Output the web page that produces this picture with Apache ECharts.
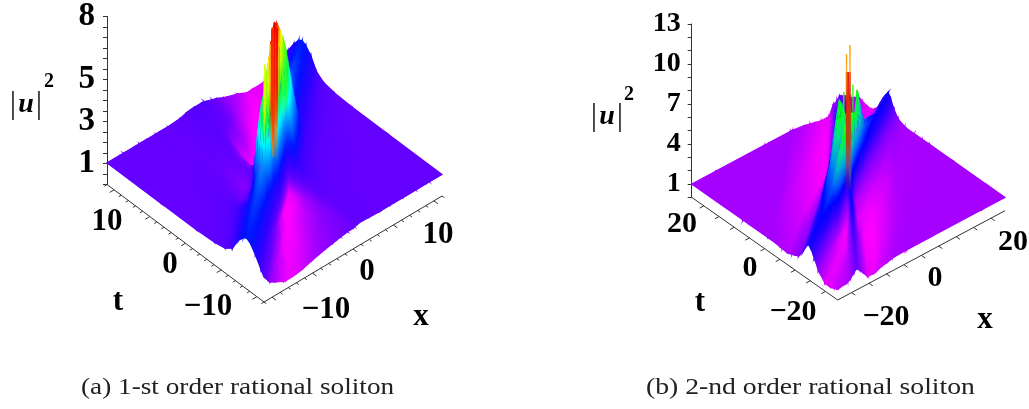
<!DOCTYPE html>
<html>
<head>
<meta charset="utf-8">
<style>html,body{margin:0;padding:0;background:#fff}#main{width:1029px;height:409px}</style>
<script src="https://cdn.jsdelivr.net/npm/echarts@6/dist/echarts.min.js"></script>
</head>
<body>
<div id="main"></div>
<script>
// mesh stations: a runs along the main ridge, b across it
var aStationsFirst = [-11, -9, -7, -5, -3.5, -2, -1, 0, 1, 2, 3.5, 5, 7, 9, 11];
var bStationsFirst = [-20, -12, -7, -4.5, -3, -2, -1.2, -0.5, 0, 0.5, 1.2, 2, 3, 4.5, 7, 12, 20];
var heightsFirst = [
    [1, .95, .6, .45, .8, 1.4, 1.9, 2.25, 2.35, 2.25, 1.95, 1.4, 1.15, 1.05, 1, 1, 1],
    [1, .95, .5, .4, .7, 1.3, 1.95, 2.35, 2.5, 2.35, 2, 1.5, 1.2, 1.08, 1, 1, 1],
    [1, .9, .5, .35, .55, 1.1, 1.9, 2.5, 2.7, 2.5, 2.05, 1.65, 1.3, 1.1, 1.02, 1, 1],
    [1, .9, .6, .38, .35, .85, 1.9, 2.9, 3.3, 2.9, 2.2, 1.2, .95, 1, 1.03, 1, 1],
    [1, .92, .68, .4, .3, .55, 2.2, 4.6, 5.5, 5, 3.8, 1, .8, .9, 1, 1, 1],
    [1, .97, .75, .5, .33, .3, 3.6, 5.4, 6.6, 5.6, 4.5, 1.5, 1, 1, 1.05, 1.05, 1],
    [1, 1, .8, .55, .35, .25, 3.6, 6, 7.3, 6.2, 4.6, 1.2, .8, .85, 1.1, 1.15, 1],
    [1, .97, .85, .7, .45, .4, 3.6, 6.4, 7.7, 6.4, 3.6, .35, .3, .5, 1, 1.2, 1],
    [1, 1.05, 1.05, 1.2, 1.55, 3.2, 4.6, 6.2, 7.3, 6, 3.6, .25, .3, .6, 1, 1.25, 1],
    [1, 1.02, 1.05, 1.2, 1.5, 3, 4.5, 5.6, 6.6, 5.4, 3.6, .25, .25, .5, .9, 1.15, 1],
    [1, 1, 1.03, 1.15, 1.4, 2.6, 3.8, 5, 5.5, 4.6, 2.2, .5, .25, .35, .7, 1.05, 1],
    [1, 1, 1.03, 1.12, 1.35, 1.7, 2.2, 2.9, 3.3, 2.9, 1.9, .85, .3, .3, .6, .95, 1],
    [1, 1, 1.02, 1.1, 1.3, 1.65, 2.05, 2.5, 2.7, 2.5, 1.9, 1.1, .55, .38, .45, .9, 1],
    [1, 1, 1, 1.08, 1.2, 1.5, 2, 2.35, 2.5, 2.35, 1.95, 1.3, .7, .45, .45, .9, 1],
    [1, 1, 1, 1.05, 1.15, 1.4, 1.95, 2.25, 2.35, 2.25, 1.9, 1.4, .8, .5, .5, .92, 1]
];
// a, b, low height, top height, width of the jagged slivers on the central peak
var spikesFirst = [
    [1, -.9, 3, 5.2, 2], [2, -.9, 3, 5, 2], [-2, .7, 3, 5.9, 2], [-1, 1, 3, 6, 2],
    [-6, -1.9, 4.5, 6.4, 1.5], [-5, -1.6, 4, 6.6, 2], [-4, -1.3, 3.5, 7, 2], [-3, -.9, 3, 7.2, 2],
    [-2, -1, 2.5, 6.8, 2], [-2, -.5, 2.5, 7.2, 2.5], [-1, -.5, 2.5, 7.1, 2], [-1, .1, 2.5, 7.3, 2.5],
    [1, .6, 3.5, 7, 2], [0, .6, 3.5, 6.6, 1.5], [0, -.65, 3.5, 6.8, 1.5],
    [0, .35, 3, 7.4, 2], [0, -.35, 3, 7.6, 2], [0, 0, 3, 7.8, 2]
];
var heightStopsFirst = [.3, .6, 1, 1.6, 2.3, 2.9, 3.5, 4, 4.8, 5.5, 6.2, 7, 7.6];
var colorStopsFirst = ['#ff00ff', '#b000ff', '#6400ff', '#3000ff', '#0010ff', '#0060ff', '#00b0ff', '#00ffff', '#00ff40', '#80ff00', '#ffff00', '#ff6000', '#f00000'];
var zTicksFirst = ['1', '3', '5', '8'];
var tLabelsFirst = ['10', '0', '\u221210'];
var xLabelsFirst = ['10', '0', '\u221210'];

var aStationsSecond = [-90, -40, -25, -16, -10, -6, -3.5, -1.5, 0, 1.5, 3.5, 6, 10, 16, 25, 40, 90];
var bStationsSecond = [-90, -40, -25, -16, -10, -6, -3.5, -1.5, 0, 1.5, 3.5, 6, 10, 16, 25, 40, 90];
var heightsSecond = [
    [1, 1, 1, 1, 1, 1, 1, 1, 1, 1, 1, 1, 1, 1, 1, 1, 1],
    [1, 1, 1, .9, .95, 1.1, 1.5, 2, 2.3, 2, 1.5, 1.15, 1, 1, 1, 1, 1],
    [1, 1, .85, .7, .85, 1.3, 1.85, 2.35, 2.6, 2.35, 1.8, 1.3, 1.05, .7, .7, 1, 1],
    [1, 1, .9, .6, .6, 1.1, 1.9, 2.6, 2.9, 2.7, 2.6, 2.2, 1.1, .45, .5, .95, 1],
    [1, 1, 1, .75, .5, .9, 1.9, 3, 3.5, 3.5, 3.6, 3.6, 2.2, .4, .4, .9, 1],
    [1, 1, .95, .8, .5, .6, 2.6, 4.2, 5, 4.4, 4.5, 5.2, 4.6, 1.5, .5, .9, 1],
    [1, 1, 1.1, .95, .5, .4, 1.8, 4.6, 6, 4.8, 4.5, 6, 6, 2.8, 1.3, 1, 1],
    [1, 1, 1.35, 1.4, 1.2, .7, 1.5, 5.5, 6.5, 6, 5, 5.8, 5.2, 2.6, 1.4, 1, 1],
    [1, 1, 1.55, 2, 2.8, 3.2, 4.5, 6.5, 8.5, 6.5, 6, 5, 3.4, 2.4, 1.6, 1, 1],
    [1, 1, 1.35, 1.6, 1.8, 1.8, 3, 5.5, 6.5, 6, 4.4, 3.6, 2.8, 2, 1.4, 1, 1],
    [1, 1, 1, .9, .6, .9, 2, 4, 6, 5, 3.4, 2.2, 1.8, 1.6, 1.25, 1, 1],
    [1, .9, .5, .4, .55, .9, 1.9, 3.6, 5.2, 5.4, 6.2, 3.4, 1, 1, 1.1, 1, 1],
    [1, .9, .4, .35, .55, 1, 1.7, 2.9, 3.5, 3.6, 3, 1.8, .6, .75, 1, 1, 1],
    [1, .95, .65, .55, .75, 1.2, 1.8, 2.5, 2.9, 2.6, 1.8, .95, .55, .6, .9, 1, 1],
    [1, 1, .95, .95, 1.05, 1.3, 1.8, 2.35, 2.7, 2.35, 1.85, 1.3, .85, .7, .85, 1, 1],
    [1, 1, 1, 1, 1, 1.15, 1.5, 2, 2.3, 2, 1.5, 1.1, .95, .9, 1, 1, 1],
    [1, 1, 1, 1, 1, 1, 1, 1, 1, 1, 1, 1, 1, 1, 1, 1, 1]
];
var spikesSecond = [
    [-.9, 8.65, 3, 6.3, 1.5], [4.1, 6.3, 3.5, 6.3, 1.5], [0, 0, 1, 9.9, 5], [-1.1, 0, 8, 11.5, 1.5], [1, 0, 8, 11.7, 1.5]
];
var heightStopsSecond = [.35, .7, 1, 1.6, 2.2, 2.9, 3.6, 4.4, 5, 5.8, 6.6, 8, 9, 10, 11.5];
var colorStopsSecond = ['#ff00ff', '#d000ff', '#a600ff', '#7000ff', '#3000ff', '#0000ff', '#0060ff', '#00b0d0', '#00e090', '#00ff20', '#40ff00', '#e0e000', '#ff3000', '#e01010', '#ff9a00'];
var zTicksSecond = ['1', '4', '7', '10', '13'];
var tLabelsSecond = ['20', '0', '\u221220'];
var xLabelsSecond = ['20', '0', '\u221220'];

var panelFirst = {
    range: 11, tStep: 1, tMajor: 5,
    dirA: [1, .78], dirB: [0, 1],
    aStations: aStationsFirst, bStations: bStationsFirst, heights: heightsFirst, spikes: spikesFirst,
    heightStops: heightStopsFirst, colorStops: colorStopsFirst,
    left: [107, 184.5], bottom: [264, 302], right: [442, 196], hScale: 21.6
};
var panelSecond = {
    range: 24, tStep: 5, tMajor: 1,
    dirA: [1, .6], dirB: [.77, 1],
    aStations: aStationsSecond, bStations: bStationsSecond, heights: heightsSecond, spikes: spikesSecond,
    heightStops: heightStopsSecond, colorStops: colorStopsSecond,
    left: [691.7, 197.3], bottom: [837.7, 300], right: [1005, 210.7], hScale: 13.33
};

function project(p, x, t, h) {
    var r = p.range;
    var fx = (x + r) / (2 * r), ft = (r - t) / (2 * r);
    return [
        p.left[0] + (p.bottom[0] - p.left[0]) * ft + (p.right[0] - p.bottom[0]) * fx,
        p.left[1] + (p.bottom[1] - p.left[1]) * ft + (p.right[1] - p.bottom[1]) * fx - p.hScale * h
    ];
}

function colorAt(p, h) {
    var hs = p.heightStops, cs = p.colorStops;
    if (h <= hs[0]) return hexRgb(cs[0]);
    for (var i = 1; i < hs.length; i++) {
        if (h <= hs[i]) {
            var f = (h - hs[i - 1]) / (hs[i] - hs[i - 1]);
            var c0 = hexRgb(cs[i - 1]), c1 = hexRgb(cs[i]);
            return [c0[0] + (c1[0] - c0[0]) * f, c0[1] + (c1[1] - c0[1]) * f, c0[2] + (c1[2] - c0[2]) * f];
        }
    }
    return hexRgb(cs[cs.length - 1]);
}

function hexRgb(s) {
    return [parseInt(s.substr(1, 2), 16), parseInt(s.substr(3, 2), 16), parseInt(s.substr(5, 2), 16)];
}

function css(c, alpha) {
    return 'rgba(' + Math.round(c[0]) + ',' + Math.round(c[1]) + ',' + Math.round(c[2]) + ',' + (alpha === undefined ? 1 : alpha) + ')';
}

// cut a polygon of [x, t, h] nodes to the square plotted domain
function clipSide(poly, dim, limit, sign) {
    var out = [];
    for (var i = 0; i < poly.length; i++) {
        var p = poly[i], q = poly[(i + 1) % poly.length];
        var dp = sign * (limit - p[dim]), dq = sign * (limit - q[dim]);
        if (dp >= 0) out.push(p);
        if ((dp >= 0) !== (dq >= 0)) {
            var f = dp / (dp - dq);
            out.push([p[0] + (q[0] - p[0]) * f, p[1] + (q[1] - p[1]) * f, p[2] + (q[2] - p[2]) * f]);
        }
    }
    return out;
}

function buildTriangles(p) {
    var res = [];
    function node(i, j) {
        var a = p.aStations[i], b = p.bStations[j];
        return [a * p.dirA[0] + b * p.dirB[0], a * p.dirA[1] + b * p.dirB[1], p.heights[i][j]];
    }
    function add(tri) {
        var poly = tri;
        poly = clipSide(poly, 0, p.range, 1);
        if (poly.length) poly = clipSide(poly, 0, -p.range, -1);
        if (poly.length) poly = clipSide(poly, 1, p.range, 1);
        if (poly.length) poly = clipSide(poly, 1, -p.range, -1);
        for (var k = 1; k + 1 < poly.length; k++) {
            res.push(poly[0].concat(poly[k], poly[k + 1]));
        }
    }
    for (var i = 0; i + 1 < p.aStations.length; i++) {
        for (var j = 0; j + 1 < p.bStations.length; j++) {
            add([node(i, j), node(i + 1, j), node(i + 1, j + 1)]);
            add([node(i, j), node(i + 1, j + 1), node(i, j + 1)]);
        }
    }
    // painter's order: far side of the floor first
    function depth(v) {
        return project(p, (v[0] + v[3] + v[6]) / 3, (v[1] + v[4] + v[7]) / 3, 0)[1];
    }
    res.sort(function (u, v) { return depth(u) - depth(v); });
    return res;
}

function surfaceItem(p, stroked) {
    return function (params, api) {
        var pts = [], hs = [];
        for (var k = 0; k < 3; k++) {
            var s = project(p, api.value(k * 3), api.value(k * 3 + 1), api.value(k * 3 + 2));
            pts.push(api.coord(s));
            hs.push(api.value(k * 3 + 2));
        }
        var fill = triangleFill(p, pts, hs);
        return {
            type: 'polygon',
            shape: { points: pts },
            style: stroked ? { fill: fill, stroke: fill, lineWidth: 1.2 } : { fill: fill },
            silent: true
        };
    };
}

// height is linear on a triangle, so one linear gradient shades it exactly
function triangleFill(p, pts, hs) {
    var min = Math.min(hs[0], hs[1], hs[2]), max = Math.max(hs[0], hs[1], hs[2]);
    var dx1 = pts[1][0] - pts[0][0], dy1 = pts[1][1] - pts[0][1];
    var dx2 = pts[2][0] - pts[0][0], dy2 = pts[2][1] - pts[0][1];
    var det = dx1 * dy2 - dx2 * dy1;
    if (max - min < .02 || Math.abs(det) < .4) return css(colorAt(p, (min + max) / 2));
    var gx = ((hs[1] - hs[0]) * dy2 - (hs[2] - hs[0]) * dy1) / det;
    var gy = (dx1 * (hs[2] - hs[0]) - dx2 * (hs[1] - hs[0])) / det;
    var g2 = gx * gx + gy * gy;
    var low = pts[hs.indexOf(min)];
    var stops = [], n = Math.min(10, Math.ceil((max - min) / .25) + 1);
    for (var i = 0; i <= n; i++) {
        stops.push({ offset: i / n, color: css(colorAt(p, min + (max - min) * i / n)) });
    }
    return new echarts.graphic.LinearGradient(
        low[0], low[1],
        low[0] + gx / g2 * (max - min), low[1] + gy / g2 * (max - min),
        stops, true
    );
}

function spikeItem(p) {
    return function (params, api) {
        var a = api.value(0), b = api.value(1), w = api.value(4);
        var x = a * p.dirA[0] + b * p.dirB[0], t = a * p.dirA[1] + b * p.dirB[1];
        var lo = api.coord(project(p, x, t, api.value(2)));
        var hi = api.coord(project(p, x, t, api.value(3)));
        var c = colorAt(p, api.value(3));
        return {
            type: 'polygon',
            shape: { points: [[lo[0] - w / 2, lo[1]], [lo[0] + w / 2, lo[1]], [hi[0] + w / 2, hi[1]], [hi[0] - w / 2, hi[1]]] },
            style: {
                fill: new echarts.graphic.LinearGradient(0, hi[1], 0, lo[1], [
                    { offset: 0, color: css(c, .95) },
                    { offset: .6, color: css(c, .75) },
                    { offset: 1, color: css(c, .1) }
                ], true)
            },
            silent: true
        };
    };
}

// oblique floor axes: item is [position on axis, tick length in axis units]
function floorTicks(p) {
    var res = [], r = p.range;
    for (var v = -Math.floor(r / p.tStep) * p.tStep; v <= r; v += p.tStep) {
        res.push([v, v % (p.tStep * p.tMajor) === 0 ? r * .05 : r * .03]);
    }
    return res;
}

function floorAxisItem(p, dim) {
    return function (params, api) {
        var r = p.range, v = api.value(0), len = api.value(1);
        var from = dim === 't' ? project(p, -r, v, 0) : project(p, v, -r, 0);
        var to = dim === 't' ? project(p, -r - len, v, 0) : project(p, v, -r - len, 0);
        var a = api.coord(from), b = api.coord(to);
        return {
            type: 'line',
            shape: { x1: a[0], y1: a[1], x2: b[0], y2: b[1] },
            style: { stroke: '#333', lineWidth: 1 },
            silent: true
        };
    };
}

function customSeries(data, item, z) {
    return {
        type: 'custom',
        xAxisIndex: 0, yAxisIndex: 0,
        coordinateSystem: 'cartesian2d',
        clip: false,
        silent: true,
        z: z,
        renderItem: item,
        data: data,
        progressive: 0,
        animation: false
    };
}

function axisEdges(p) {
    var r = p.range;
    return [[-r, r, -r, -r], [-r, -r, r, -r]];
}

function edgeItem(p) {
    return function (params, api) {
        var a = api.coord(project(p, api.value(0), api.value(1), 0));
        var b = api.coord(project(p, api.value(2), api.value(3), 0));
        return {
            type: 'line',
            shape: { x1: a[0], y1: a[1], x2: b[0], y2: b[1] },
            style: { stroke: '#333', lineWidth: 1 },
            silent: true
        };
    };
}

function zAxis(gridIndex, max, step, labels, size, margin) {
    return {
        gridIndex: gridIndex, type: 'value', min: 0, max: max, interval: step,
        axisLine: { show: true, lineStyle: { color: '#333', width: 1 } },
        axisTick: { show: true, length: 4, lineStyle: { color: '#333' } },
        splitLine: { show: false },
        axisLabel: {
            margin: margin, fontFamily: 'Liberation Serif', fontWeight: 'bold', fontSize: size, color: '#000',
            showMinLabel: true, showMaxLabel: true, hideOverlap: false,
            formatter: function (v) { return labels.indexOf(String(v)) >= 0 ? String(v) : ''; }
        }
    };
}

function hiddenX(gridIndex) {
    return { gridIndex: gridIndex, type: 'value', min: 0, max: 1, show: false };
}

function boldText(str, x, y, size) {
    return {
        type: 'text', x: x, y: y, silent: true,
        style: { text: str, fill: '#000', font: 'bold ' + size + 'px "Liberation Serif"', textAlign: 'center', textVerticalAlign: 'middle' }
    };
}

function uLabel(x, y, x2, y2) {
    return [
        { type: 'text', x: x, y: y, silent: true,
          style: { text: '|', fill: '#222', font: '32px "Liberation Serif"', textAlign: 'center', textVerticalAlign: 'middle' } },
        { type: 'text', x: x + 13, y: y, silent: true,
          style: { text: 'u', fill: '#000', font: 'italic bold 28px "Liberation Serif"', textAlign: 'center', textVerticalAlign: 'middle' } },
        { type: 'text', x: x + 26, y: y, silent: true,
          style: { text: '|', fill: '#222', font: '32px "Liberation Serif"', textAlign: 'center', textVerticalAlign: 'middle' } },
        boldText('2', x2, y2, 20)
    ];
}

function caption(str, x, y, stretch) {
    return {
        type: 'text', x: x, y: y, scaleX: stretch, silent: true,
        style: { text: str, fill: '#222', font: '24px "Liberation Serif"', textAlign: 'left', textVerticalAlign: 'middle' }
    };
}

var texts = [].concat(
    uLabel(13, 105, 49, 82),
    uLabel(594, 117, 629, 95),
    [
        boldText(tLabelsFirst[0], 107, 222, 31), boldText(tLabelsFirst[1], 170, 265, 31), boldText(tLabelsFirst[2], 208, 307, 31),
        boldText(xLabelsFirst[0], 438, 235, 31), boldText(xLabelsFirst[1], 367, 272, 31), boldText(xLabelsFirst[2], 326, 310, 31),
        boldText('t', 118, 302, 31), boldText('x', 421, 317, 31),
        boldText(tLabelsSecond[0], 682, 224, 30), boldText(tLabelsSecond[1], 750, 268, 30), boldText(tLabelsSecond[2], 793, 312, 30),
        boldText(xLabelsSecond[0], 1013, 242, 30), boldText(xLabelsSecond[1], 935, 278, 30), boldText(xLabelsSecond[2], 886, 317, 30),
        boldText('t', 700, 303, 31), boldText('x', 985, 320, 31),
        caption('(a) 1-st order rational soliton', 81, 388, 1.135),
        caption('(b) 2-nd order rational soliton', 646, 388, 1.153)
    ]
);

var chart = echarts.init(document.getElementById('main'), null, { renderer: 'canvas' });
var trianglesFirst = buildTriangles(panelFirst);
var trianglesSecond = buildTriangles(panelSecond);
chart.setOption({
    animation: false,
    backgroundColor: '#fff',
    grid: [
        { left: 0, top: 0, width: 1029, height: 409 },
        { left: 107, top: 11.7, width: 1, height: 172.8 },
        { left: 691.7, top: 24, width: 1, height: 173.3 }
    ],
    xAxis: [
        { gridIndex: 0, type: 'value', min: 0, max: 1029, show: false },
        hiddenX(1), hiddenX(2)
    ],
    yAxis: [
        { gridIndex: 0, type: 'value', min: 0, max: 409, inverse: true, show: false },
        zAxis(1, 8, .5, zTicksFirst, 33, 12),
        zAxis(2, 13, 1, zTicksSecond, 28, 11)
    ],
    series: [
        customSeries(axisEdges(panelFirst), edgeItem(panelFirst), 1),
        customSeries(floorTicks(panelFirst), floorAxisItem(panelFirst, 't'), 1),
        customSeries(floorTicks(panelFirst), floorAxisItem(panelFirst, 'x'), 1),
        customSeries(trianglesFirst, surfaceItem(panelFirst, true), 2),
        customSeries(trianglesFirst, surfaceItem(panelFirst, false), 3),
        customSeries(spikesFirst, spikeItem(panelFirst), 4),
        customSeries(axisEdges(panelSecond), edgeItem(panelSecond), 1),
        customSeries(floorTicks(panelSecond), floorAxisItem(panelSecond, 't'), 1),
        customSeries(floorTicks(panelSecond), floorAxisItem(panelSecond, 'x'), 1),
        customSeries(trianglesSecond, surfaceItem(panelSecond, true), 2),
        customSeries(trianglesSecond, surfaceItem(panelSecond, false), 3),
        customSeries(spikesSecond, spikeItem(panelSecond), 4)
    ],
    graphic: texts
});
</script>
</body>
</html>
